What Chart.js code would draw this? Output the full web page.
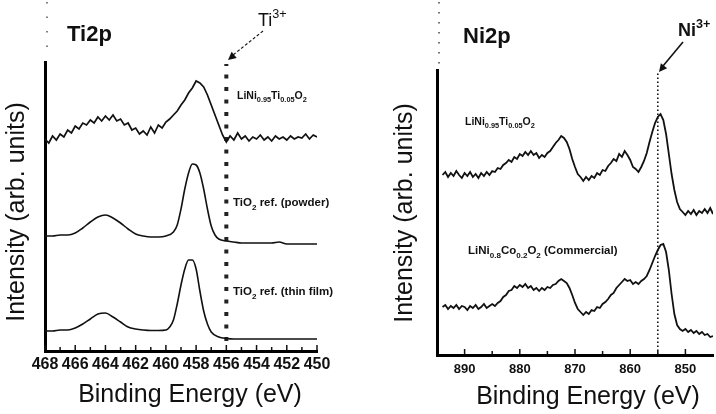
<!DOCTYPE html>
<html><head><meta charset="utf-8">
<script src="https://cdn.jsdelivr.net/npm/chart.js@4.4.1/dist/chart.umd.min.js"></script>
<style>
html,body{margin:0;padding:0;background:#fff;}
#wrap{position:relative;width:716px;height:414px;overflow:hidden;background:#fff;}
.panel{position:absolute;top:0;width:358px;height:414px;}
#p1{left:0}#p2{left:358px}
</style></head><body>
<div id="wrap"><div class="panel" id="p1"><canvas id="c1" width="358" height="414"></canvas></div><div class="panel" id="p2"><canvas id="c2" width="358" height="414"></canvas></div></div>
<script>
// ---------- Ti 2p panel ----------
const tiTicks = [450,452,454,456,458,460,462,464,466,468];
const tiEnergyNoisy = [468,467.75,467.5,467.25,467,466.75,466.5,466.25,466,465.75,465.5,465.25,465,464.75,464.5,464.25,464,463.75,463.5,463.25,463,462.75,462.5,462.25,462,461.75,461.5,461.25,461,460.75,460.5,460.25,460,459.75,459.5,459.25,459,458.75,458.5,458.25,458,457.75,457.5,457.25,457,456.75,456.5,456.25,456,455.75,455.5,455.25,455,454.75,454.5,454.25,454,453.75,453.5,453.25,453,452.75,452.5,452.25,452,451.75,451.5,451.25,451,450.75,450.5,450.25,450];
const tiLiNiTi = [210,206,213,209,215,212,219,216,223,220,226,224,229,226,232,228,233,229,234,228,230,224,226,219,221,215,218,214,222,216,224,221,227,230,234,238,244,249,256,261,268,266,262,254,244,234,224,214,207,213,209,216,210,213,208,212,210,214,209,212,208,213,210,212,209,213,210,212,211,215,210,214,212];
const tiPowderE = [468,467.5,467,466.5,466,465.5,465,464.5,464,463.5,463,462.5,462,461.5,461,460.5,460,459.5,459.25,459,458.75,458.5,458.25,458,457.75,457.5,457.25,457,456.75,456.5,456,455.5,455,454,453,452.5,452,451,450];
const tiPowder = [113,113,114,114,116,121,127,132,134,131,126,120,115,113,112,112,113,117,124,140,160,176,185,184,176,160,140,123,114,110,108,107,106,106,106,107,105,105,105];
const tiFilmE = [468,467.5,467,466.5,466,465.5,465,464.5,464,463.5,463,462.5,462,461.5,461,460.5,460,459.75,459.5,459.25,459,458.75,458.5,458.25,458,457.75,457.5,457.25,457,456.5,456,455.5,455,452,450];
const tiFilm = [18,18,19,19,21,25,30,35,36,32,27,22,20,19,18.5,18.5,19,22,29,45,64,80,89,89,80,58,38,25,17,12,10.5,10,10,10,10];
const ti3Energy = [456,456];
const ti3Span = [8,285];

// ---------- Ni 2p panel ----------
const niTicks = [850,860,870,880,890];
const niEnergy = [894,893.5,893,892.5,892,891.5,891,890.5,890,889.5,889,888.5,888,887.5,887,886.5,886,885.5,885,884.5,884,883.5,883,882.5,882,881.5,881,880.5,880,879.5,879,878.5,878,877.5,877,876.5,876,875.5,875,874.5,874,873.5,873,872.5,872,871.5,871,870.5,870,869.5,869,868.5,868,867.5,867,866.5,866,865.5,865,864.5,864,863.5,863,862.5,862,861.5,861,860.5,860,859.5,859,858.5,858,857.5,857,856.5,856,855.5,855,854.5,854,853.5,853,852.5,852,851.5,851,850.5,850,849.5,849,848.5,848,847.5,847,846.5,846,845.5,845];
const niLiNiTi = [181,184,179,183,180,185,181,178,183,180,184,179,182,178,183,180,184,181,185,184,188,187,191,193,196,194,199,197,202,200,204,201,205,201,203,198,201,199,203,205,209,213,216,220,218,214,207,197,189,182,179,175,179,176,180,178,183,181,186,185,190,193,197,195,202,199,205,201,196,189,187,184,189,195,203,214,224,233,239,242,236,222,202,182,166,154,147,144,141,145,142,146,141,145,143,147,143,148,142];
const niCommercial = [49,51,47,50,48,51,47,50,49,46,50,48,51,47,49,52,48,50,52,50,53,55,59,61,65,66,70,68,71,69,72,68,70,66,68,65,68,66,69,68,71,72,75,77,75,73,68,61,53,47,44,41,44,42,46,45,49,48,52,54,57,61,63,68,71,74,77,75,76,72,74,72,75,77,80,86,93,100,106,111,112,104,86,62,42,31,27,25,27,24,26,23,25,22,24,21,22,19,20];
const ni3Energy = [855,855];
const ni3Span = [1,284];

const FONT = '"Liberation Sans", Arial, Helvetica, sans-serif';
const INK = '#111';

function pts(xs, ys){ return xs.map((x,i)=>({x:x, y:ys[i]})); }

function rich(ctx, parts, x, y, size, weight){
  let cx = x;
  const w = weight || 'normal';
  ctx.textAlign = 'left';
  ctx.textBaseline = 'alphabetic';
  for (const [t,k] of parts){
    const s = k==='n' ? size : size*0.7;
    ctx.font = w + ' ' + s + 'px ' + FONT;
    const dy = k==='sub' ? size*0.32 : (k==='sup' ? -size*0.45 : 0);
    ctx.fillText(t, cx, y+dy);
    cx += ctx.measureText(t).width;
  }
}

function inwardTicks(chart, major, minorStep){
  const xs = chart.scales.x, ctx = chart.ctx, b = chart.chartArea.bottom - 1;
  ctx.save();
  ctx.strokeStyle = INK; ctx.lineWidth = 1.5;
  major.forEach(v=>{
    const p = xs.getPixelForValue(v);
    ctx.beginPath(); ctx.moveTo(p,b); ctx.lineTo(p,b-5); ctx.stroke();
  });
  for (let i=0;i<major.length-1;i++){
    const p = xs.getPixelForValue(major[i]+minorStep);
    ctx.beginPath(); ctx.moveTo(p,b); ctx.lineTo(p,b-3); ctx.stroke();
  }
  ctx.restore();
}

function dottedV(ctx, x, y0, y1, dash, w, col){
  ctx.save(); ctx.strokeStyle = col; ctx.lineWidth = w; ctx.setLineDash(dash);
  ctx.beginPath(); ctx.moveTo(x,y0); ctx.lineTo(x,y1); ctx.stroke(); ctx.restore();
}

function arrowHead(ctx, tx, ty, fx, fy, len, wid){
  const a = Math.atan2(ty-fy, tx-fx);
  ctx.beginPath();
  ctx.moveTo(tx,ty);
  ctx.lineTo(tx - len*Math.cos(a) + wid*Math.sin(a), ty - len*Math.sin(a) - wid*Math.cos(a));
  ctx.lineTo(tx - len*Math.cos(a) - wid*Math.sin(a), ty - len*Math.sin(a) + wid*Math.cos(a));
  ctx.closePath(); ctx.fill();
}

const tiDecor = {
  id:'tiDecor',
  afterDraw(chart){
    const ctx = chart.ctx, ca = chart.chartArea;
    inwardTicks(chart, tiTicks, 1);
    dottedV(ctx, ca.left+2, 2, ca.top-10, [1.5,13], 1.5, '#555');
    ctx.save();
    ctx.fillStyle = INK;
    ctx.font = '25px ' + FONT; ctx.textAlign='center'; ctx.textBaseline='middle';
    ctx.fillText('Binding Energy (eV)', 190, 395);
    ctx.save(); ctx.translate(17, 212); ctx.rotate(-Math.PI/2);
    ctx.fillText('Intensity (arb. units)', 0, 0); ctx.restore();
    ctx.font = 'bold 22px ' + FONT; ctx.textAlign='left'; ctx.textBaseline='middle';
    ctx.fillText('Ti2p', 67, 35);
    rich(ctx, [['Ti','n'],['3+','sup']], 258, 26, 18, 'normal');
    ctx.save(); ctx.strokeStyle = INK; ctx.lineWidth = 1.1; ctx.setLineDash([3,2]);
    ctx.beginPath(); ctx.moveTo(263,31); ctx.lineTo(233,55); ctx.stroke(); ctx.restore();
    arrowHead(ctx, 228, 60, 263, 31, 8, 4);
    rich(ctx, [['LiNi','n'],['0.95','sub'],['Ti','n'],['0.05','sub'],['O','n'],['2','sub']], 237, 99, 10.5, 'bold');
    rich(ctx, [['TiO','n'],['2','sub'],[' ref. (powder)','n']], 233, 206, 11.5, 'bold');
    rich(ctx, [['TiO','n'],['2','sub'],[' ref. (thin film)','n']], 233, 295, 11.5, 'bold');
    ctx.restore();
  }
};

const niDecor = {
  id:'niDecor',
  afterDraw(chart){
    const ctx = chart.ctx, ca = chart.chartArea;
    inwardTicks(chart, niTicks, 5);
    dottedV(ctx, ca.left+2, 2, ca.top-4, [1.5,8.5], 1.5, '#444');
    ctx.save();
    ctx.fillStyle = INK;
    ctx.font = '25px ' + FONT; ctx.textAlign='center'; ctx.textBaseline='middle';
    ctx.fillText('Binding Energy (eV)', 230, 397);
    ctx.save(); ctx.translate(47, 213); ctx.rotate(-Math.PI/2);
    ctx.fillText('Intensity (arb. units)', 0, 0); ctx.restore();
    ctx.font = 'bold 22px ' + FONT; ctx.textAlign='left'; ctx.textBaseline='middle';
    ctx.fillText('Ni2p', 105, 37);
    rich(ctx, [['Ni','n'],['3+','sup']], 320, 36, 18, 'bold');
    ctx.save(); ctx.strokeStyle = INK; ctx.lineWidth = 1.6;
    ctx.beginPath(); ctx.moveTo(325,42); ctx.lineTo(305,66); ctx.stroke(); ctx.restore();
    arrowHead(ctx, 301, 72, 325, 42, 8, 4);
    rich(ctx, [['LiNi','n'],['0.95','sub'],['Ti','n'],['0.05','sub'],['O','n'],['2','sub']], 107, 125, 10.5, 'bold');
    rich(ctx, [['LiNi','n'],['0.8','sub'],['Co','n'],['0.2','sub'],['O','n'],['2','sub'],[' (Commercial)','n']], 110, 254, 11.5, 'bold');
    ctx.restore();
  }
};

function lineDS(data, w, smooth){
  return {data, borderColor:INK, borderWidth:w, pointRadius:0, fill:false,
          tension: smooth?0.4:0, cubicInterpolationMode: smooth?'monotone':'default'};
}

function makeChart(id, cfg){
  return new Chart(document.getElementById(id), {
    type:'line',
    data:{datasets: cfg.datasets},
    options:{
      responsive:false, animation:false, devicePixelRatio:1,
      layout:{padding:{left:0, right:cfg.padRight, top:cfg.top, bottom:0}},
      plugins:{legend:{display:false}, tooltip:{enabled:false}},
      scales:{
        x:{type:'linear', min:cfg.min, max:cfg.max, reverse:true,
           afterBuildTicks:(s)=>{ s.ticks = cfg.ticks.map(v=>({value:v})); },
           afterFit:(s)=>{ s.height = 414 - cfg.bottom; },
           ticks:{font:{family:FONT, size:cfg.tickSize, weight:'bold'}, color:INK, padding:cfg.tickPad, maxRotation:0, autoSkip:false},
           grid:{display:false, drawTicks:false},
           border:{display:true, color:'#000', width:3}},
        y:{min:cfg.ymin, max:cfg.ymax,
           afterFit:(s)=>{ s.width = cfg.left; },
           ticks:{display:false}, grid:{display:false, drawTicks:false},
           border:{display:true, color:'#000', width:3}}
      }
    },
    plugins:[cfg.decor]
  });
}

makeChart('c1', {
  min:450, max:468, ticks:tiTicks, tickSize:16, tickPad:4,
  left:45, top:62, bottom:351, padRight:41, ymin:-2, ymax:287, decor:tiDecor,
  datasets:[
    lineDS(pts(tiEnergyNoisy, tiLiNiTi), 1.7, false),
    lineDS(pts(tiPowderE, tiPowder), 1.6, true),
    lineDS(pts(tiFilmE, tiFilm), 1.6, true),
    {data:pts(ti3Energy, ti3Span), borderColor:'#222', borderWidth:4, borderDash:[4,8.5], pointRadius:0, fill:false}
  ]
});

makeChart('c2', {
  min:845, max:895, ticks:niTicks, tickSize:13, tickPad:7,
  left:79, top:70, bottom:355, padRight:3, ymin:1, ymax:286, decor:niDecor,
  datasets:[
    lineDS(pts(niEnergy, niLiNiTi), 1.8, false),
    lineDS(pts(niEnergy, niCommercial), 1.8, false),
    {data:pts(ni3Energy, ni3Span), borderColor:'#111', borderWidth:1.6, borderDash:[1.6,2.4], pointRadius:0, fill:false}
  ]
});
</script>
</body></html>
